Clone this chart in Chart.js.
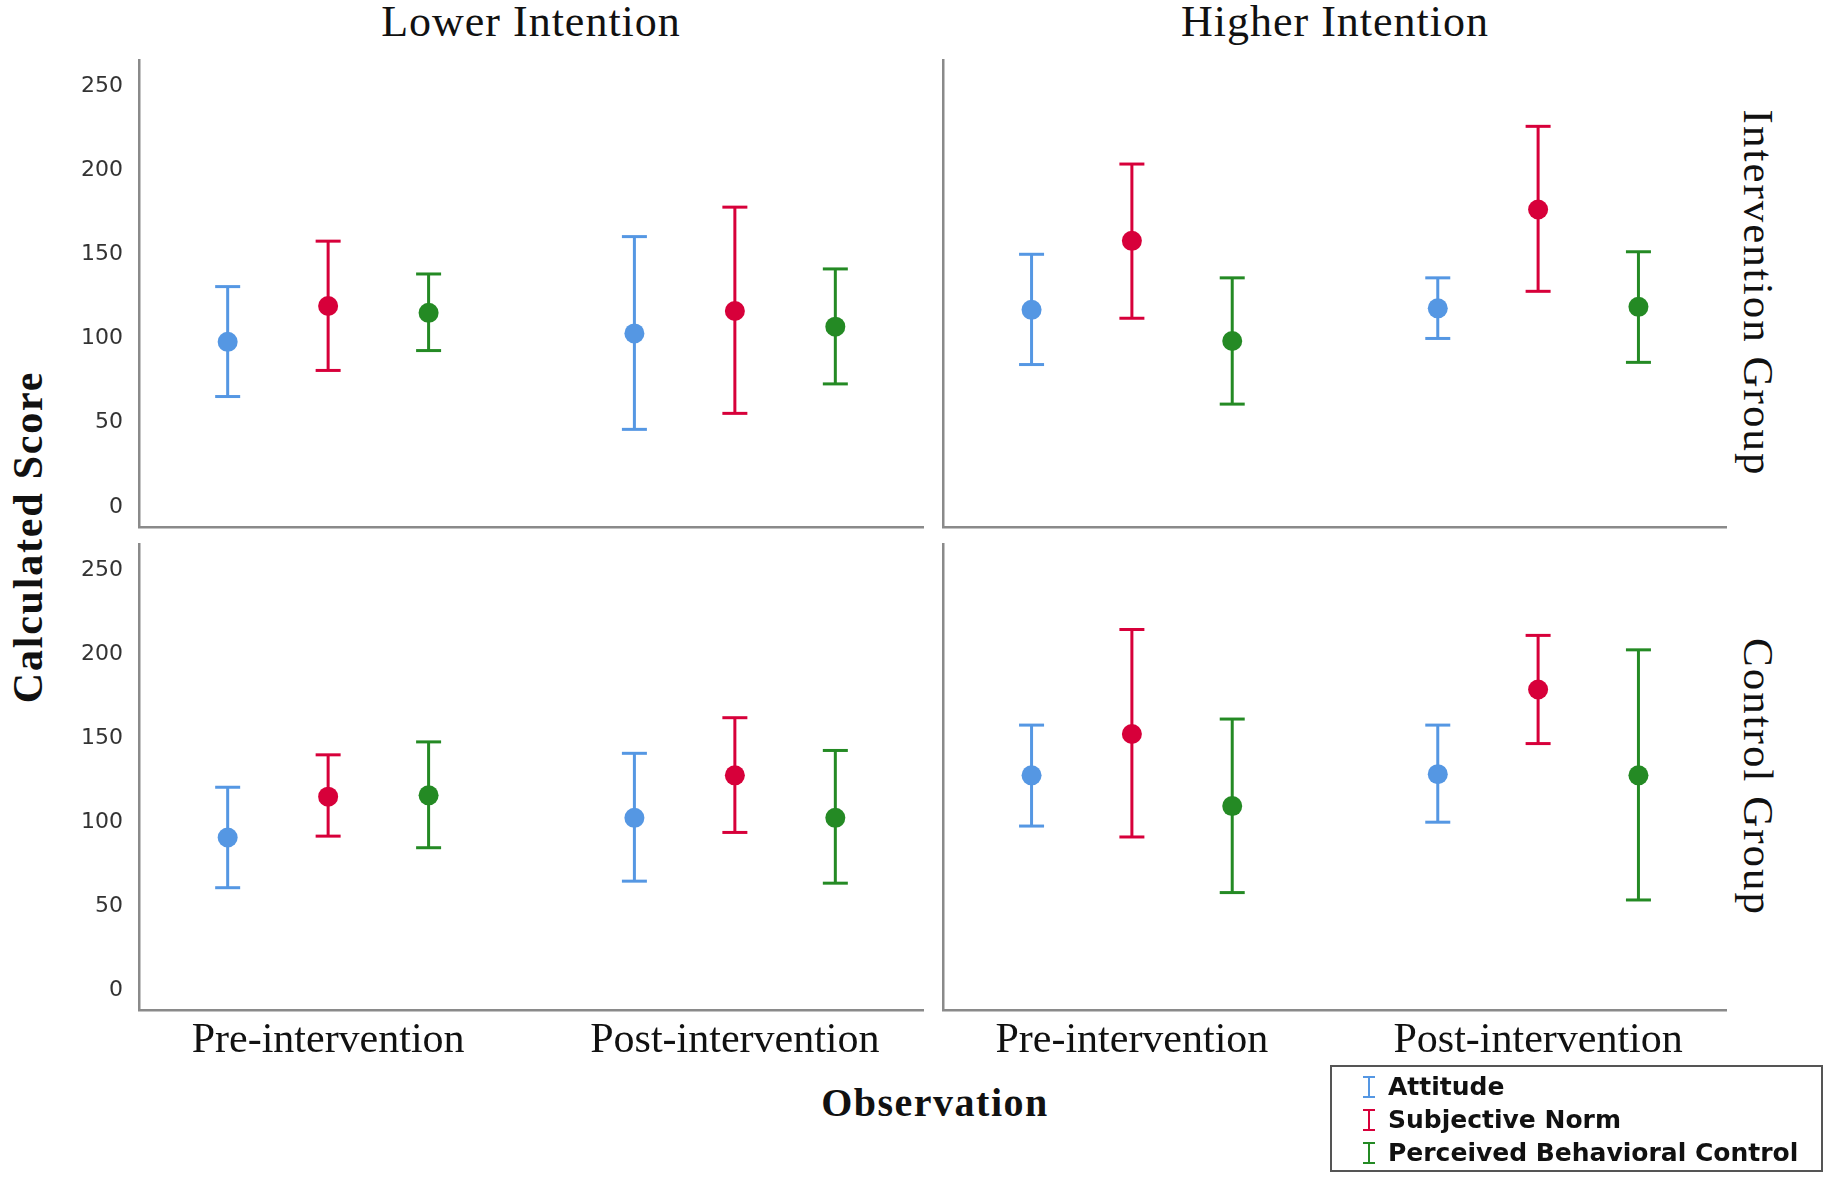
<!DOCTYPE html>
<html>
<head>
<meta charset="utf-8">
<script src="https://cdn.jsdelivr.net/npm/chart.js@4.4.1/dist/chart.umd.min.js"></script>
<style>
html, body { margin: 0; padding: 0; background: #fff; }
#page { position: relative; width: 1831px; height: 1183px; overflow: hidden; }
.panel { position: absolute; }
.lbl { position: absolute; font-family: "Liberation Serif", serif; color: #111; line-height: 1; white-space: nowrap; }
.title { font-size: 44px; letter-spacing: 1px; transform: translateX(-50%); }
.row { font-size: 43px; letter-spacing: 2px; transform: translate(-50%, -50%) rotate(90deg); }
.axt { font-weight: bold; }
#legend { position: absolute; left: 1330px; top: 1065px; width: 493px; height: 107px; box-sizing: border-box;
  border: 2px solid #555; padding-top: 3px; font-family: "DejaVu Sans", sans-serif; font-weight: bold; font-size: 25px; color: #111; }
#legend .item { height: 33px; line-height: 33px; padding-left: 31px; white-space: nowrap; }
#legend .ib { display: inline-block; width: 12px; height: 22px; box-sizing: border-box; vertical-align: -3px;
  margin-right: 13px; border-top: 2px solid; border-bottom: 2px solid; }
</style>
</head>
<body>
<div id="page">
  <div class="lbl title" style="left:531px; top:0px;">Lower Intention</div>
  <div class="lbl title" style="left:1335px; top:0px;">Higher Intention</div>
  <div class="lbl row" style="left:1758px; top:293px;">Intervention Group</div>
  <div class="lbl row" style="left:1758px; top:777px;">Control Group</div>
  <div class="lbl axt" style="left:28px; top:537px; font-size:42px; letter-spacing:1.8px; transform:translate(-50%,-50%) rotate(-90deg);">Calculated Score</div>
  <div class="lbl axt" style="left:935px; top:1083px; font-size:40px; letter-spacing:1.5px; transform:translateX(-50%);">Observation</div>

  <div class="panel" style="left:60px; top:59px; width:864px; height:472px;"><canvas id="c1"></canvas></div>
  <div class="panel" style="left:939px; top:59px; width:788px; height:472px;"><canvas id="c2"></canvas></div>
  <div class="panel" style="left:60px; top:543px; width:864px; height:527px;"><canvas id="c3"></canvas></div>
  <div class="panel" style="left:939px; top:543px; width:788px; height:527px;"><canvas id="c4"></canvas></div>

  <div id="legend"></div>
</div>
<script>
const categories = ['Pre-intervention', 'Post-intervention'];
const seriesNames = ['Attitude', 'Subjective Norm', 'Perceived Behavioral Control'];
const seriesColors = ['#5597e3', '#d7003a', '#248a24'];
const yTicks = [0, 50, 100, 150, 200, 250];

// rows = Attitude, Subjective Norm, PBC ; columns = Pre, Post
// Lower Intention / Intervention Group
const lowerIntMean = [[98.0, 103.0], [119.3, 116.3], [115.2, 107.0]];
const lowerIntLow  = [[65.5, 46.0], [81.0, 55.5], [92.8, 73.0]];
const lowerIntHigh = [[130.8, 160.5], [157.8, 178.0], [138.3, 141.3]];
// Higher Intention / Intervention Group
const higherIntMean = [[117.0, 117.9], [158.0, 176.6], [98.5, 118.8]];
const higherIntLow  = [[84.5, 100.0], [112.0, 128.0], [61.0, 85.8]];
const higherIntHigh = [[150.0, 136.0], [203.6, 226.0], [136.0, 151.5]];
// Lower Intention / Control Group
const lowerCtlMean = [[90.7, 102.4], [115.0, 127.7], [115.8, 102.4]];
const lowerCtlLow  = [[60.8, 64.7], [91.5, 93.7], [84.6, 63.5]];
const lowerCtlHigh = [[120.6, 140.8], [139.9, 162.0], [147.6, 142.5]];
// Higher Intention / Control Group
const higherCtlMean = [[127.7, 128.4], [152.3, 178.8], [109.4, 127.7]];
const higherCtlLow  = [[97.5, 99.8], [91.0, 146.6], [57.9, 53.5]];
const higherCtlHigh = [[157.6, 157.6], [214.5, 211.0], [161.2, 202.4]];

const dodge = [-0.247, 0, 0.247];
const axisColor = '#8a8a8a';

function makePanel(id, means, lows, highs, showY, showX) {
  let datasets = [];
  seriesNames.forEach((name, s) => {
    // 평균 점
    datasets.push({
      label: name,
      order: 0,
      data: categories.map((c, i) => ({ x: i + dodge[s], y: means[s][i] })),
      pointStyle: 'circle',
      pointRadius: 10,
      pointBackgroundColor: seriesColors[s],
      pointBorderWidth: 0,
      showLine: false
    });
    // 오차 막대 (null 로 끊기)
    let bars = [];
    categories.forEach((c, i) => {
      bars.push({ x: i + dodge[s], y: lows[s][i] });
      bars.push({ x: i + dodge[s], y: highs[s][i] });
      bars.push({ x: i + dodge[s], y: null });
    });
    datasets.push({
      label: name + ' CI',
      order: 1,
      data: bars,
      showLine: true,
      spanGaps: false,
      borderColor: seriesColors[s],
      borderWidth: 3,
      pointStyle: 'line',
      pointRadius: 12.5,
      pointBorderColor: seriesColors[s],
      pointBorderWidth: 3
    });
  });

  return new Chart(document.getElementById(id), {
    type: 'scatter',
    data: { datasets: datasets },
    options: {
      responsive: true,
      maintainAspectRatio: false,
      animation: false,
      layout: { padding: 0, autoPadding: false },
      plugins: {
        legend: { display: false },
        tooltip: { enabled: false }
      },
      scales: {
        x: {
          type: 'linear',
          min: -0.465,
          max: 1.465,
          grid: { display: false, drawTicks: false },
          border: { display: true, color: axisColor, width: 2.5 },
          afterBuildTicks: (sc) => { sc.ticks = categories.map((c, i) => ({ value: i })); },
          ticks: {
            display: showX,
            padding: 6,
            autoSkip: false,
            maxRotation: 0,
            color: '#111',
            font: { family: 'Liberation Serif', size: 42 },
            callback: (v) => categories[v]
          },
          afterFit: (sc) => { sc.height = showX ? 60 : 4; sc.paddingLeft = 0; sc.paddingRight = 0; }
        },
        y: {
          min: -12,
          max: 266,
          grid: { display: false, drawTicks: false },
          border: { display: true, color: axisColor, width: 2.5 },
          afterBuildTicks: (sc) => { sc.ticks = yTicks.map(v => ({ value: v })); },
          ticks: {
            display: showY,
            padding: 16,
            color: '#333',
            font: { family: 'DejaVu Sans', size: 22 }
          },
          afterFit: (sc) => { sc.width = showY ? 79 : 4; sc.paddingTop = 0; sc.paddingBottom = 0; }
        }
      }
    }
  });
}

makePanel('c1', lowerIntMean, lowerIntLow, lowerIntHigh, true, false);
makePanel('c2', higherIntMean, higherIntLow, higherIntHigh, false, false);
makePanel('c3', lowerCtlMean, lowerCtlLow, lowerCtlHigh, true, true);
makePanel('c4', higherCtlMean, higherCtlLow, higherCtlHigh, false, true);

// 범례
const legend = document.getElementById('legend');
seriesNames.forEach((name, s) => {
  let item = document.createElement('div');
  item.className = 'item';
  let ib = document.createElement('span');
  ib.className = 'ib';
  ib.style.borderColor = seriesColors[s];
  ib.style.background = 'linear-gradient(to right, transparent 5px, ' + seriesColors[s] + ' 5px, ' + seriesColors[s] + ' 7px, transparent 7px)';
  item.appendChild(ib);
  item.appendChild(document.createTextNode(name));
  legend.appendChild(item);
});
</script>
</body>
</html>
